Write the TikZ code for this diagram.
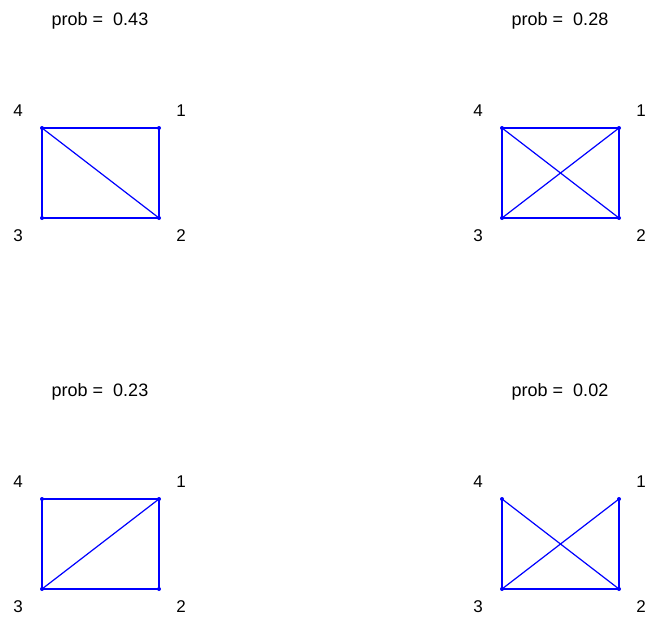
\documentclass[tikz,border=0pt]{standalone}
\usepackage{fontspec}
\setmainfont{Liberation Sans}
\usepackage{tikz}
\usetikzlibrary{positioning}
\definecolor{graphblue}{RGB}{0,0,255}
\tikzstyle{vertex} = [circle, fill=graphblue, inner sep=0pt, minimum size=4pt]
\tikzstyle{gedge} = [draw=graphblue, line width=1.2pt]
\tikzstyle{vlabel} = [inner sep=0pt, font=\fontsize{17}{19}\selectfont]
\tikzstyle{probtitle} = [inner sep=0pt, font=\fontsize{18}{20}\selectfont]

\begin{document}
\begin{tikzpicture}[x=1pt, y=-1pt]
    \useasboundingbox (0,0) rectangle (649,621);

    % One panel per graph: name / corner / probability / edge list
    \foreach \p/\ox/\oy/\prob/\edges in {
        a/42/128/0.43/{4/1,1/2,2/3,3/4,4/2},
        b/502/128/0.28/{4/1,1/2,2/3,3/4,4/2,3/1},
        c/42/499/0.23/{4/1,1/2,2/3,3/4,3/1},
        d/502/499/0.02/{1/2,2/3,3/4,4/2,3/1}} {
        % Vertices
        \node[vertex] (\p1) at (\ox+117,\oy) {};
        \node[vertex] (\p2) at (\ox+117,\oy+90) {};
        \node[vertex] (\p3) at (\ox,\oy+90) {};
        \node[vertex] (\p4) at (\ox,\oy) {};

        % Vertex numbers
        \node[vlabel] (\p l1) at (\ox+139,\oy-17) {1};
        \node[vlabel] (\p l2) at (\ox+139,\oy+108) {2};
        \node[vlabel] (\p l3) at (\ox-24,\oy+108) {3};
        \node[vlabel] (\p l4) at (\ox-24,\oy-17) {4};

        % Edges
        \foreach \u/\v in \edges {
            \draw[gedge] (\p\u.center) -- (\p\v.center);
        }

        % Title
        \node[probtitle] (\p t) at (\ox+58,\oy-107) {prob = \ \prob};
    }
\end{tikzpicture}
\end{document}
